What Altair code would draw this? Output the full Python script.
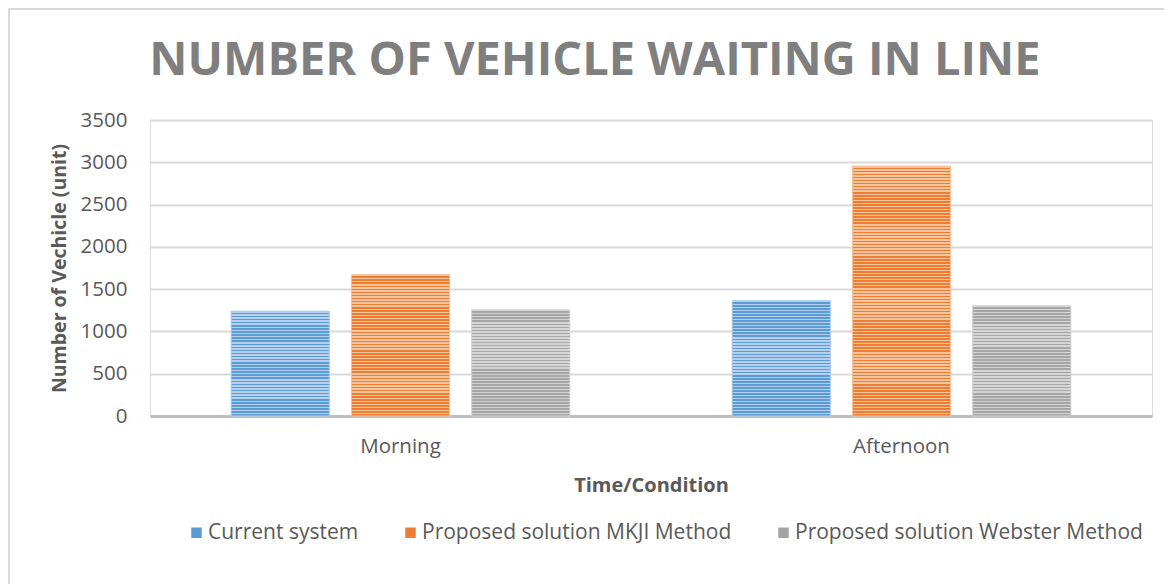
import altair as alt
import pandas as pd

times = ["Morning", "Afternoon"]
series = ["Current system", "Proposed solution MKJI Method", "Proposed solution Webster Method"]
current_system = [1240, 1365]
mkji_method = [1670, 2955]
webster_method = [1255, 1305]
chart_title = "NUMBER OF VEHICLE WAITING IN LINE"

values_by_series = {
    series[0]: current_system,
    series[1]: mkji_method,
    series[2]: webster_method,
}

rows = []
for s, vals in values_by_series.items():
    for t, v in zip(times, vals):
        rows.append({"Time": t, "Series": s, "Value": v})
df = pd.DataFrame(rows)

dark = ["#5b9bd5", "#ed7d31", "#a5a5a5"]
light = ["#b4d0ee", "#f7c4a0", "#d6d6d6"]

FONT = "Open Sans"
W, H = 1002, 296
YMAX = 3500

x_enc = alt.X("Time:N", sort=times,
              scale=alt.Scale(paddingInner=0, paddingOuter=0),
              axis=alt.Axis(title="Time/Condition", labelAngle=0, ticks=False,
                            labelFontSize=20.5, labelColor="#595959", labelPadding=20,
                            titleFontSize=20, titleFontWeight="bold", titleColor="#595959",
                            titlePadding=19, domainColor="#bfbfbf", domainWidth=3,
                            labelFont=FONT, titleFont=FONT))
xo_enc = alt.XOffset("Series:N", sort=series,
                     scale=alt.Scale(domain=series, paddingInner=0.183, paddingOuter=0.675))
y_enc = alt.Y("Value:Q", scale=alt.Scale(domain=[0, YMAX], nice=False),
              axis=alt.Axis(title="Number of Vechicle (unit)", values=list(range(0, 3501, 500)),
                            format="d",
                            ticks=False, domain=False, gridColor="#d9d9d9", gridWidth=2,
                            labelFontSize=20.5, labelColor="#595959", labelPadding=23,
                            titleFontSize=19.5, titleFontWeight="bold", titleColor="#595959",
                            titlePadding=11, labelFont=FONT, titleFont=FONT))

base = alt.Chart(df).mark_bar().encode(
    x=x_enc, xOffset=xo_enc, y=y_enc,
    color=alt.Color("Series:N", sort=series,
                    scale=alt.Scale(domain=series, range=dark),
                    legend=alt.Legend(title=None, orient="none", direction="horizontal",
                                      legendX=36, legendY=402, symbolType="square",
                                      symbolSize=110, symbolStrokeWidth=0, labelLimit=0,
                                      labelFontSize=21, labelColor="#595959", labelFont=FONT,
                                      columnPadding=41, labelOffset=1)),
)

def stripes(c_dark, c_light, n):
    stops = []
    for k in range(n):
        a = k / n
        m = (k + 0.5) / n
        b = (k + 1) / n
        stops += [{"offset": a, "color": c_light}, {"offset": m, "color": c_light},
                  {"offset": m, "color": c_dark}, {"offset": b, "color": c_dark}]
    return {"gradient": "linear", "x1": 0, "y1": 0, "x2": 0, "y2": 1, "stops": stops}

layers = [base]
for i, s in enumerate(series):
    for t, v in zip(times, values_by_series[s]):
        n = max(1, round(v / 36))
        lay = alt.Chart(df).transform_filter(
            (alt.datum.Series == s) & (alt.datum.Time == t)
        ).mark_bar(fill=stripes(dark[i], light[i], n), stroke=light[i], strokeWidth=1).encode(
            x=x_enc, xOffset=xo_enc, y=y_enc
        )
        layers.append(lay)

one = pd.DataFrame({"a": [0]})
border = alt.Chart(one).mark_rect(
    fill=None, stroke="#d9d9d9", strokeWidth=2
).encode(x=alt.value(-141), x2=alt.value(W + 100), y=alt.value(-111), y2=alt.value(H + 300))

title = alt.Chart(one).mark_text(
    font="Open Sans", fontSize=47, fontWeight="bold", color="#7f7f7f",
    align="center", baseline="alphabetic"
).encode(x=alt.value(445), y=alt.value(-45), text=alt.value(chart_title))

chart = alt.layer(*layers, border, title).properties(
    width=W, height=H,
    autosize=alt.AutoSizeParams(type="none"),
    padding={"left": 142, "top": 112, "right": 12, "bottom": 168},
).configure_view(stroke=None).configure(background="white")

chart.save("out.html", embed_options={"renderer": "svg", "actions": False})
